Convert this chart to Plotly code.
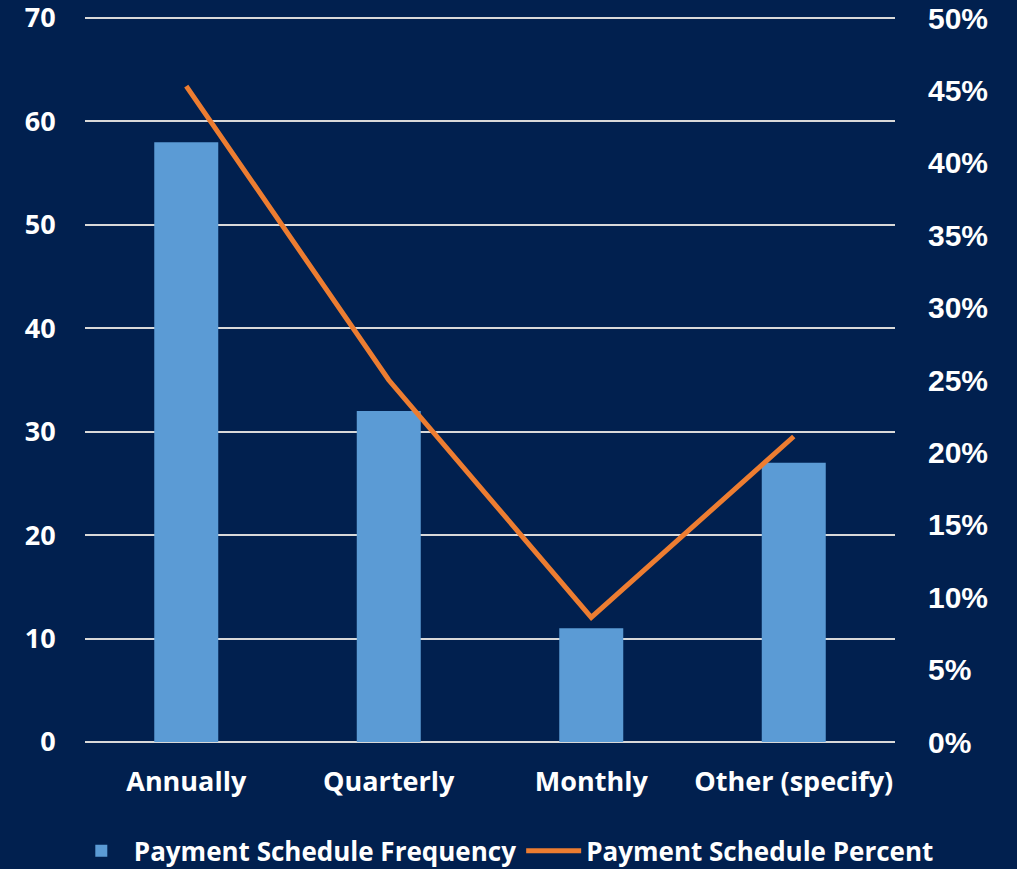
import plotly.graph_objects as go

categories = ["Annually", "Quarterly", "Monthly", "Other (specify)"]
frequency = [58, 32, 11, 27]
percent = [0.453, 0.25, 0.086, 0.211]
left_ticks = [0, 10, 20, 30, 40, 50, 60, 70]
right_ticks = [0, 0.05, 0.10, 0.15, 0.20, 0.25, 0.30, 0.35, 0.40, 0.45, 0.50]

Y_MAX = 70.1
BG = "#01204F"
fig = go.Figure()
fig.add_trace(go.Bar(x=categories, y=frequency, name="Payment Schedule Frequency",
                     marker=dict(color="#5B9BD5", line=dict(width=0)), yaxis="y"))
fig.add_trace(go.Scatter(x=categories, y=percent, name="Payment Schedule Percent",
                         mode="lines", line=dict(color="#ED7D31", width=5), yaxis="y2"))

fig.update_layout(
    width=1017, height=869,
    paper_bgcolor=BG, plot_bgcolor=BG,
    margin=dict(l=85, r=122, t=17, b=127, autoexpand=False),
    bargap=0.684,
    font=dict(family="Open Sans", color="white"),
    xaxis=dict(showgrid=False, showline=False, zeroline=False,
               ticks="outside", ticklen=16, tickcolor="rgba(0,0,0,0)",
               tickfont=dict(family="Open Sans", size=27, color="white", weight="bold")),
    yaxis=dict(range=[0, Y_MAX], tickvals=left_ticks, showgrid=True,
               gridcolor="#D9D9D9", gridwidth=1.5, zeroline=True, zerolinecolor="#D9D9D9",
               zerolinewidth=1.5, showline=False, ticklabeloverflow="allow",
               ticks="outside", ticklen=23, tickcolor="rgba(0,0,0,0)",
               tickfont=dict(family="Open Sans", size=27, color="white", weight="bold")),
    yaxis2=dict(range=[0, 0.5 * Y_MAX / 70], tickvals=right_ticks, tickformat=".0%",
                overlaying="y", side="right", showgrid=False, zeroline=False, showline=False,
                ticklabeloverflow="allow",
                ticks="outside", ticklen=26, tickcolor="rgba(0,0,0,0)",
                tickfont=dict(family="Liberation Sans", size=30, color="white", weight="bold")),
    legend=dict(orientation="h", xref="paper", x=-0.02, xanchor="left",
                yref="paper", y=-0.15, yanchor="middle",
                font=dict(family="Open Sans", size=26, color="white", weight="bold"),
                itemwidth=55, bgcolor="rgba(0,0,0,0)", traceorder="normal"),
    showlegend=True,
)

fig.write_html("out.html")
